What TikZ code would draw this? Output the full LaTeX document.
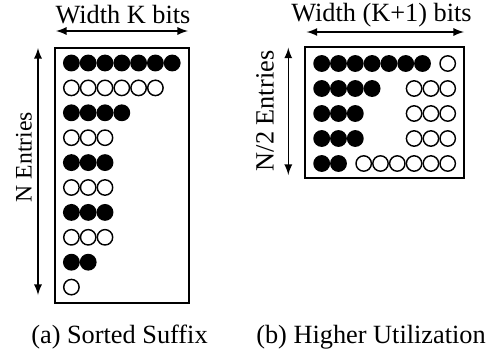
\documentclass[tikz,border=0pt]{standalone}
\usepackage{fontspec}
\setmainfont{Liberation Serif}
\usetikzlibrary{positioning}

\begin{document}
\begin{tikzpicture}[x=0.38pt, y=-0.38pt, >=latex, line width=0.4pt, font=\fontsize{10}{12}\selectfont,
   bit/.style={circle, draw, line width=0.55pt, minimum size=5.85pt, inner sep=0pt},
   one/.style={bit, fill=black},
   zero/.style={bit, fill=white}]
   \useasboundingbox (0,0) rectangle (488,354);
   % (a) sorted suffix
   \draw (55,48) rectangle (189,303);
   \foreach \r/\n in {1/7,3/4,5/3,7/3,9/2}
      \foreach \c in {1,...,\n}
         \node[one] (a-\r-\c) at ({71.4+16.8*(\c-1)},{63+24.9*(\r-1)}) {};
   \foreach \r/\n in {2/6,4/3,6/3,8/3,10/1}
      \foreach \c in {1,...,\n}
         \node[zero] (a-\r-\c) at ({71.4+16.8*(\c-1)},{63+24.9*(\r-1)}) {};
   \coordinate (wa-l) at (56,31);
   \coordinate (wa-r) at (188,31);
   \coordinate (ea-t) at (38,48);
   \coordinate (ea-b) at (38,295);
   \draw[<->] (wa-l) -- (wa-r);
   \draw[<->] (ea-t) -- (ea-b);
   \node (widthA) at (123,15) {Width K bits};
   \node[rotate=90, font=\fontsize{9}{11}\selectfont] (entriesA) at (24,157) {N Entries};
   \node (capA) at (119.5,337) {(a) Sorted Suffix};
   % (b) higher utilization
   \draw (305,47) rectangle (464,178);
   \foreach \r/\n in {1/7,2/4,3/3,4/3,5/2}
      \foreach \c in {1,...,\n}
         \node[one] (b-\r-\c) at ({321.7+16.8*(\c-1)},{63.5+25*(\r-1)}) {};
   \foreach \r/\n in {1/1,2/3,3/3,4/3,5/6}
      \foreach \c in {1,...,\n}
         \node[zero] (c-\r-\c) at ({447.7-16.8*(\c-1)},{63.5+25*(\r-1)}) {};
   \coordinate (wb-l) at (306.7,32);
   \coordinate (wb-r) at (464,32);
   \coordinate (eb-t) at (288.3,47.7);
   \coordinate (eb-b) at (288.3,175);
   \draw[<->] (wb-l) -- (wb-r);
   \draw[<->] (eb-t) -- (eb-b);
   \node (widthB) at (381.5,15) {Width (K+1) bits};
   \node[rotate=90] (entriesB) at (265,111) {N/2 Entries};
   \node (capB) at (371,337) {(b) Higher Utilization};
\end{tikzpicture}
\end{document}
